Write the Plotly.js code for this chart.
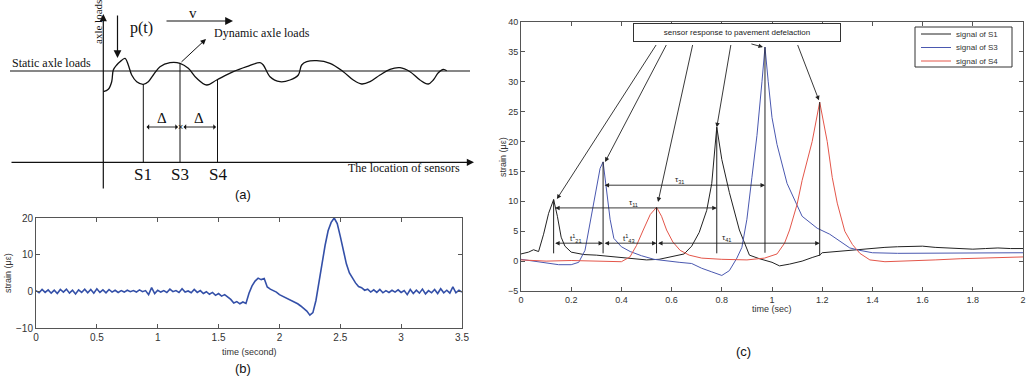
<!DOCTYPE html>
<html><head><meta charset="utf-8">
<script src="https://cdn.plot.ly/plotly-3.0.1.min.js"></script>
<style>html,body{margin:0;padding:0;background:#fff}#chart{width:1027px;height:378px}</style>
</head><body><div id="chart"></div>
<script>
// ---------- Panel (a): schematic dynamic axle load curve (drawing units) ----------
const loadX = [103.3,108.3,111.7,113.3,116.7,120,125,128.3,131.7,136.7,143.3,148.3,153.3,160,170,180,188.3,196.7,206.7,216.7,233.3,246.7,260,263.3,270,280,290,298.3,301.7,306.7,316.7,330,343.3,353.3,361.7,370,380,390,400,410,420,428.3,433.3,438.3,443.3,446.7];
const loadY = [91.7,89.3,81.7,70,65,61.7,58.3,65,75,81.7,84.3,81.7,75,66.7,62.7,63.3,68.3,78.3,85,80,71.7,66.7,62.7,65,76.7,81.7,80,75,65,61.7,60.7,63.3,71.7,80,84,81.7,75,69.3,67.7,71.7,80,84,80,72.7,69.3,70.7];
const sensorNames = ["S1","S3","S4"];
const sensorPos = [143.3,180,217.5];
const sensorTop = [84.3,63.3,80];

// ---------- Panel (b): measured strain, time (second) ----------
const timeB = [];
for (let i = 0; i <= 140; i++) timeB.push(i * 0.025);
const strainB = [0.2,-0.4,0.5,-0.3,0.4,-0.5,0.3,-0.6,0.5,-0.2,0.6,-0.5,0.3,-0.7,0.4,-0.3,0.6,-0.4,0.5,-0.5,
 0.7,-0.3,0.4,-0.4,0.5,-0.2,0.3,-0.3,0.2,-0.2,0.3,-0.1,0.2,-0.2,0.4,-0.1,0.2,-0.9,1.0,-0.6,
 0.3,-0.2,0.2,-0.3,0.6,-0.1,0.2,-0.3,0.7,-0.2,0.1,-0.4,0.5,-0.3,0.2,-0.6,-0.1,-0.8,-0.3,-1.1,
 -0.6,-1.3,-0.9,-1.6,-2.2,-3.2,-2.8,-3.4,-2.9,-3.3,-0.5,1.5,2.8,3.6,3.2,3.5,1.2,0.6,0.3,-0.2,
 -0.9,-1.3,-1.6,-2.2,-2.5,-3.0,-3.4,-4.0,-4.6,-5.4,-6.5,-5.8,-2.5,2.5,8.0,12.5,16.5,18.8,20.0,18.5,
 15.0,11.0,7.5,5.0,3.5,2.3,1.3,1.0,0.3,0.6,-0.2,0.4,-0.3,0.5,-0.4,0.2,-0.3,0.3,-0.2,0.4,
 -0.3,0.2,-0.9,0.5,-0.6,0.3,-0.5,0.6,-0.7,0.2,-0.4,0.5,-0.6,0.7,-0.4,0.3,-0.5,1.2,-0.4,0.3,-0.2];

// ---------- Panel (c): sensor signals, time (sec) ----------
const tS1 = [0,0.03,0.05,0.07,0.09,0.11,0.13,0.145,0.16,0.175,0.2,0.25,0.3,0.35,0.4,0.45,0.5,0.55,0.6,0.65,0.68,0.71,0.74,0.76,0.78,0.8,0.83,0.87,0.91,0.95,1.0,1.03,1.07,1.12,1.16,1.19,1.2,1.25,1.3,1.35,1.4,1.45,1.5,1.55,1.6,1.65,1.7,1.75,1.8,1.85,1.9,1.95,2.0];
const sS1 = [1.2,1.5,1.9,1.6,4.5,8.0,10.3,7.5,4.0,2.5,1.5,1.1,1.0,0.8,0.6,0.4,0.2,0.3,0.8,1.2,2.5,4.8,8.5,13,22.4,17,11.5,5.2,1.0,0.4,-0.2,-0.8,-0.5,0.0,0.6,1.0,1.4,1.6,1.8,2.0,2.2,2.3,2.4,2.4,2.5,2.3,2.2,2.1,2.0,2.1,2.2,2.1,2.1];
const tS3 = [0,0.05,0.1,0.15,0.2,0.23,0.255,0.28,0.3,0.315,0.327,0.34,0.355,0.37,0.4,0.435,0.48,0.53,0.58,0.63,0.68,0.72,0.76,0.8,0.83,0.86,0.88,0.9,0.92,0.94,0.96,0.972,0.985,1.0,1.02,1.06,1.12,1.18,1.23,1.28,1.31,1.35,1.4,1.5,1.6,1.7,1.8,1.9,2.0];
const sS3 = [0.3,0.0,-0.3,-0.6,-0.6,-0.2,1.8,7.5,12.5,15.5,16.6,12,7,3.8,2.4,1.6,0.9,0.3,0.0,-0.2,-0.4,-1.2,-1.8,-2.4,-1.6,0.5,2.3,7,14,21,30,35.8,30,24,19.5,13,7.5,5.5,4.5,3.0,2.2,1.8,1.4,1.3,1.3,1.4,1.3,1.4,1.4];
const tS4 = [0,0.1,0.2,0.3,0.4,0.434,0.46,0.487,0.515,0.54,0.56,0.58,0.605,0.634,0.67,0.72,0.8,0.9,0.97,1.02,1.05,1.07,1.1,1.12,1.16,1.19,1.22,1.24,1.26,1.29,1.32,1.35,1.39,1.45,1.55,1.65,1.75,1.85,1.95,2.0];
const sS4 = [0.2,0.0,0.1,0.0,-0.1,0.7,2.6,5.2,7.8,9.0,7.5,5.2,3.2,1.8,1.0,0.5,0.3,0.2,0.5,1.2,3.0,5.2,9.5,13.5,20,26.6,20,14,9.7,5.0,2.8,1.3,0.2,-0.1,0.0,0.2,0.4,0.5,0.6,0.7];
const seriesNames = ["signal of S1","signal of S3","signal of S4"];
const seriesColors = ['#222', '#4a58b0', '#e4564a'];
const xTicksC = [0,0.2,0.4,0.6,0.8,1,1.2,1.4,1.6,1.8,2];
const xTickTextC = ["0","0.2","0.4","0.6","0.8","1","1.2","1.4","1.6","1.8","2"];
const yTicksC = [-5,0,5,10,15,20,25,30,35,40];
const xTicksB = [0,0.5,1,1.5,2,2.5,3,3.5];
const yTicksB = [-10,0,10,20];

// ---------- layout helpers ----------
const W = 1027, H = 378;
const px = v => v / W, py = v => 1 - v / H;
const serif = "Liberation Serif, Times New Roman, serif";
const sans = "Liberation Sans, Arial, sans-serif";

const traces = [
  {x: loadX, y: loadY, xaxis: 'x', yaxis: 'y', mode: 'lines', line: {color: '#111', width: 1.3, shape: 'spline'}, showlegend: false, hoverinfo: 'skip'},
  {x: timeB, y: strainB, xaxis: 'x2', yaxis: 'y2', mode: 'lines', line: {color: '#3450a8', width: 1.6}, showlegend: false},
  {x: tS1, y: sS1, xaxis: 'x3', yaxis: 'y3', mode: 'lines', name: seriesNames[0], line: {color: seriesColors[0], width: 1}, showlegend: false},
  {x: tS3, y: sS3, xaxis: 'x3', yaxis: 'y3', mode: 'lines', name: seriesNames[1], line: {color: seriesColors[1], width: 1}, showlegend: false},
  {x: tS4, y: sS4, xaxis: 'x3', yaxis: 'y3', mode: 'lines', name: seriesNames[2], line: {color: seriesColors[2], width: 1}, showlegend: false}
];

const shapes = [];
const ann = [];
const blk = '#111';
function txt(o) { return Object.assign({showarrow: false, xanchor: 'center', yanchor: 'middle'}, o); }
// panel (a) axes lines
shapes.push({type: 'line', xref: 'x', yref: 'y', x0: 10, x1: 470, y0: 71, y1: 71, line: {color: blk, width: 1.2}});
sensorPos.forEach((s, i) => {
  shapes.push({type: 'line', xref: 'x', yref: 'y', x0: s, x1: s, y0: sensorTop[i], y1: 162.3, line: {color: blk, width: 1}});
  ann.push(txt({xref: 'x', yref: 'y', x: s, y: 174, text: sensorNames[i], font: {family: serif, size: 17, color: blk}}));
});
function arrow(o) { return Object.assign({xref: 'x', yref: 'y', axref: 'x', ayref: 'y', showarrow: true, arrowhead: 2, arrowsize: 1.2, arrowwidth: 1.2, arrowcolor: blk, text: ''}, o); }
ann.push(arrow({x: 103.3, y: 14, ax: 103.3, ay: 190}));
ann.push(arrow({x: 474, y: 162.3, ax: 10, ay: 162.3}));
ann.push(arrow({x: 117.5, y: 58, ax: 117.5, ay: 14, arrowsize: 1.3}));
ann.push(arrow({x: 233, y: 21, ax: 165, ay: 21, arrowsize: 1.3}));
ann.push(arrow({x: 206, y: 39, ax: 180, ay: 63.3, arrowsize: 1.1, arrowwidth: 1}));
ann.push(arrow({x: 178, y: 127, ax: 145, ay: 127, arrowhead: 1, startarrowhead: 1, arrowside: 'end+start', arrowsize: 1, arrowwidth: 0.9}));
ann.push(arrow({x: 216, y: 127, ax: 182, ay: 127, arrowhead: 1, startarrowhead: 1, arrowside: 'end+start', arrowsize: 1, arrowwidth: 0.9}));
ann.push(txt({xref: 'x', yref: 'y', x: 180, y: 127, text: '×', font: {family: sans, size: 9, color: blk}}));
ann.push(txt({xref: 'x', yref: 'y', x: 162, y: 118, text: 'Δ', font: {family: serif, size: 15, color: blk}}));
ann.push(txt({xref: 'x', yref: 'y', x: 199, y: 118, text: 'Δ', font: {family: serif, size: 15, color: blk}}));
ann.push(txt({xref: 'x', yref: 'y', x: 141, y: 28, text: 'p(t)', font: {family: serif, size: 16, color: blk}}));
ann.push(txt({xref: 'x', yref: 'y', x: 193, y: 13, text: 'v', font: {family: serif, size: 15, color: blk}}));
ann.push(txt({xref: 'x', yref: 'y', x: 212, y: 33, xanchor: 'left', text: 'Dynamic axle loads', font: {family: serif, size: 12, color: blk}}));
ann.push(txt({xref: 'x', yref: 'y', x: 10, y: 63, xanchor: 'left', text: 'Static axle loads', font: {family: serif, size: 12, color: blk}}));
ann.push(txt({xref: 'x', yref: 'y', x: 462, y: 168, xanchor: 'right', text: 'The location of sensors', font: {family: serif, size: 12, color: blk}}));
ann.push(txt({xref: 'x', yref: 'y', x: 98, y: 22, text: 'axle loads', textangle: -90, font: {family: serif, size: 11, color: blk}}));
// panel captions
ann.push(txt({xref: 'paper', yref: 'paper', x: px(243), y: py(194), text: '(a)', font: {family: sans, size: 13, color: blk}}));
ann.push(txt({xref: 'paper', yref: 'paper', x: px(243), y: py(368), text: '(b)', font: {family: sans, size: 13, color: blk}}));
ann.push(txt({xref: 'paper', yref: 'paper', x: px(743), y: py(351), text: '(c)', font: {family: sans, size: 13, color: blk}}));
// axis titles for (b) and (c)
const tf = {family: sans, size: 9, color: '#333'};
ann.push(txt({xref: 'paper', yref: 'paper', x: px(249), y: py(352), text: 'time (second)', font: tf}));
ann.push(txt({xref: 'paper', yref: 'paper', x: px(8), y: py(273), text: 'strain (με)', textangle: -90, font: tf}));
ann.push(txt({xref: 'paper', yref: 'paper', x: px(772), y: py(309), text: 'time (sec)', font: tf}));
ann.push(txt({xref: 'paper', yref: 'paper', x: px(503), y: py(157), text: 'strain (με)', textangle: -90, font: tf}));

// panel (c) annotation box
ann.push(txt({xref: 'paper', yref: 'paper', x: px(737), y: py(32.5), text: 'sensor response to pavement defelaction',
  font: {family: sans, size: 8, color: '#222'}, bgcolor: '#fff', bordercolor: '#333', borderwidth: 1, borderpad: 4, width: 198}));
// arrows from the box to the peaks
const peakT = [0.143, 0.335, 0.546, 0.78, 0.964, 1.187];
const peakS = [10.4, 16.6, 9.9, 22.4, 35.8, 26.9];
const tailT = [0.542, 0.582, 0.685, 0.837, 0.912, 1.10];
peakT.forEach((t, i) => ann.push({xref: 'x3', yref: 'y3', axref: 'x3', ayref: 'y3', x: t, y: peakS[i], ax: tailT[i], ay: 36.4,
  showarrow: true, arrowhead: 2, arrowsize: 1, arrowwidth: 0.9, arrowcolor: '#222', text: ''}));
// vertical markers at the peaks
const vT = [0.13, 0.327, 0.54, 0.78, 0.972, 1.19];
const vTop = [10.3, 16.6, 9.0, 22.4, 35.8, 26.6];
const vBot = [1.3, 1.3, 1.3, 1.3, 1.4, 0.9];
vT.forEach((t, i) => shapes.push({type: 'line', xref: 'x3', yref: 'y3', x0: t, x1: t, y0: vBot[i], y1: vTop[i], line: {color: '#222', width: 1}}));
// time-delay double arrows
const dbl = [[0.327, 0.972, 12.7, 'τ<sub>31</sub>', 0.633, 13.6], [0.13, 0.78, 8.9, 'τ<sub>11</sub>', 0.447, 9.7],
  [0.13, 0.327, 3.0, 't<sup>1</sup><sub>21</sub>', 0.22, 3.8], [0.327, 0.54, 3.0, 't<sup>1</sup><sub>43</sub>', 0.43, 3.8],
  [0.54, 1.19, 3.0, 'τ<sub>41</sub>', 0.82, 3.8]];
dbl.forEach(d => {
  ann.push({xref: 'x3', yref: 'y3', axref: 'x3', ayref: 'y3', x: d[1], y: d[2], ax: d[0], ay: d[2], showarrow: true, arrowhead: 2, startarrowhead: 2,
    arrowside: 'end+start', arrowsize: 1, arrowwidth: 0.9, arrowcolor: '#222', text: ''});
  ann.push(txt({xref: 'x3', yref: 'y3', x: d[4], y: d[5], text: d[3], font: {family: sans, size: 8, color: '#222'}}));
});

// legend box for panel (c)
shapes.push({type: 'rect', xref: 'paper', yref: 'paper', x0: px(915), x1: px(1012), y0: py(67), y1: py(27), line: {color: '#333', width: 1}, fillcolor: '#fff'});
seriesNames.forEach((n, i) => {
  const yy = 34 + i * 13.5;
  shapes.push({type: 'line', xref: 'paper', yref: 'paper', x0: px(921), x1: px(951), y0: py(yy), y1: py(yy), line: {color: seriesColors[i], width: 1}});
  ann.push(txt({xref: 'paper', yref: 'paper', x: px(954), y: py(yy), xanchor: 'left', text: n, font: {family: sans, size: 8, color: '#333'}}));
});

const axBase = {showline: true, linecolor: '#555', linewidth: 1, mirror: 'ticks', ticks: 'inside', ticklen: 4, tickcolor: '#555',
  showgrid: false, zeroline: false, tickfont: {family: sans, size: 10, color: '#333'}, fixedrange: true};

const layout = {
  width: W, height: H, margin: {l: 0, r: 0, t: 0, b: 0}, paper_bgcolor: '#fff', plot_bgcolor: '#fff',
  xaxis: {domain: [0, px(480)], range: [0, 480], visible: false, fixedrange: true},
  yaxis: {domain: [py(200), 1], range: [200, 0], visible: false, fixedrange: true},
  xaxis2: Object.assign({}, axBase, {domain: [px(36), px(462)], range: [0, 3.5], tickvals: xTicksB, anchor: 'y2'}),
  yaxis2: Object.assign({}, axBase, {domain: [py(328), py(218)], range: [-10, 20], tickvals: yTicksB, anchor: 'x2'}),
  xaxis3: Object.assign({}, axBase, {domain: [px(521), px(1023)], range: [0, 2], tickvals: xTicksC, ticktext: xTickTextC, anchor: 'y3', tickfont: {family: sans, size: 9, color: '#333'}}),
  yaxis3: Object.assign({}, axBase, {domain: [py(291), py(22)], range: [-5, 40], tickvals: yTicksC, anchor: 'x3', tickfont: {family: sans, size: 9, color: '#333'}}),
  showlegend: false,
  shapes: shapes, annotations: ann
};
Plotly.newPlot('chart', traces, layout, {displayModeBar: false, staticPlot: true});
</script></body></html>
